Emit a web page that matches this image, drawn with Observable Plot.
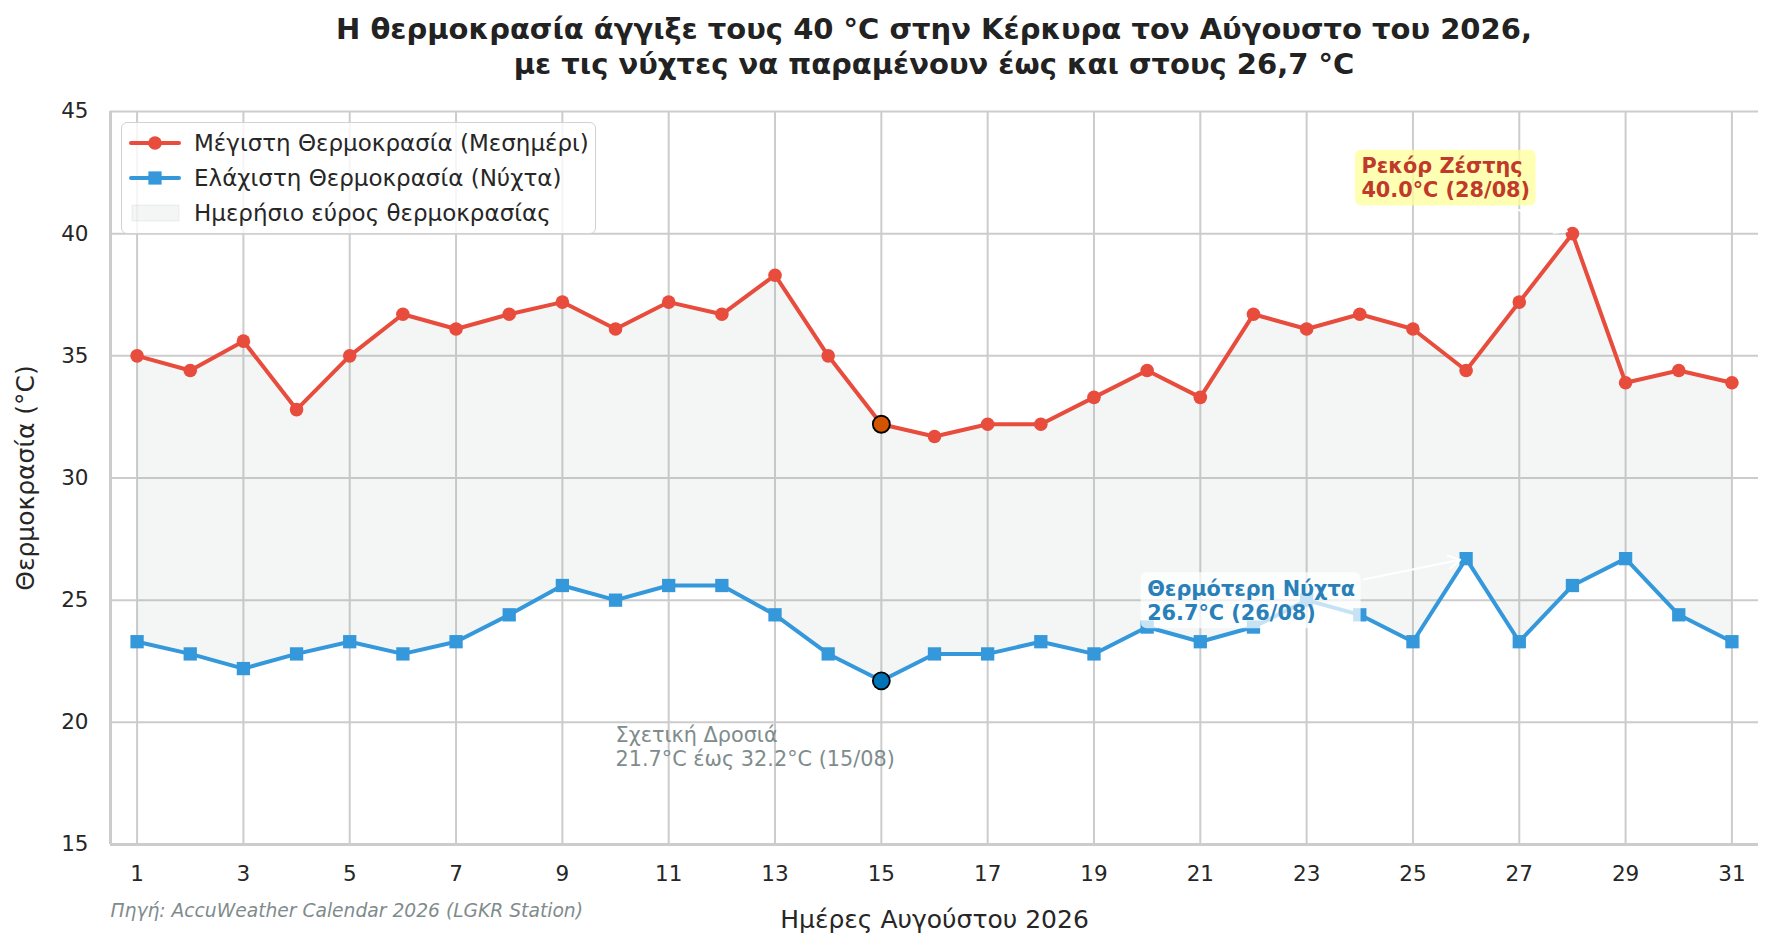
<!DOCTYPE html>
<html>
<head>
<meta charset="utf-8">
<script src="https://cdn.jsdelivr.net/npm/d3@7"></script>
<script src="https://cdn.jsdelivr.net/npm/@observablehq/plot@0.6"></script>
<style>
  html, body { margin: 0; padding: 0; background: #ffffff; }
  #wrap { position: relative; width: 1773px; height: 948px; font-family: "DejaVu Sans", sans-serif; color: #262626; overflow: hidden; }
  #title { position: absolute; left: 110px; width: 1648px; top: 12px; text-align: center; font-weight: bold; font-size: 29px; line-height: 35px; color: #222222; }
  #chart { position: absolute; left: 0; top: 95px; }
  #legend { position: absolute; left: 121px; top: 122px; width: 475px; height: 112px; box-sizing: border-box; background: rgba(255,255,255,0.8); border: 1.5px solid #d2d2d2; border-radius: 6px; }
</style>
</head>
<body>
<div id="wrap">
  <div id="title"></div>
  <div id="chart"></div>
  <div id="legend"></div>
</div>
<script>
// ---- Data ----
const days = [1,2,3,4,5,6,7,8,9,10,11,12,13,14,15,16,17,18,19,20,21,22,23,24,25,26,27,28,29,30,31];
const maxTemps = [35.0,34.4,35.6,32.8,35.0,36.7,36.1,36.7,37.2,36.1,37.2,36.7,38.3,35.0,32.2,31.7,32.2,32.2,33.3,34.4,33.3,36.7,36.1,36.7,36.1,34.4,37.2,40.0,33.9,34.4,33.9];
const minTemps = [23.3,22.8,22.2,22.8,23.3,22.8,23.3,24.4,25.6,25.0,25.6,25.6,24.4,22.8,21.7,22.8,22.8,23.3,22.8,23.9,23.3,23.9,25.0,24.4,23.3,26.7,23.3,25.6,26.7,24.4,23.3];
const xTicks = [1,3,5,7,9,11,13,15,17,19,21,23,25,27,29,31];
const yTicks = [15,20,25,30,35,40,45];
const titleLines = ["Η θερμοκρασία άγγιξε τους 40 °C στην Κέρκυρα τον Αύγουστο του 2026,", "με τις νύχτες να παραμένουν έως και στους 26,7 °C"];
const xLabel = "Ημέρες Αυγούστου 2026";
const yLabel = "Θερμοκρασία (°C)";
const sourceText = "Πηγή: AccuWeather Calendar 2026 (LGKR Station)";
const legendLabels = ["Μέγιστη Θερμοκρασία (Μεσημέρι)", "Ελάχιστη Θερμοκρασία (Νύχτα)", "Ημερήσιο εύρος θερμοκρασίας"];
const highlightDay = [15];
const notes = [
  {id: "note-record", x: 24.03, y: 42.3, text: "Ρεκόρ Ζέστης\n40.0°C (28/08)", color: "#c0392b", weight: "bold", box: "#ffff99", boxOpacity: 0.75},
  {id: "note-hot", x: 20, y: 25, text: "Θερμότερη Νύχτα\n26.7°C (26/08)", color: "#2980b9", weight: "bold", box: "#ffffff", boxOpacity: 0.72},
  {id: "note-cool", x: 10, y: 19, text: "Σχετική Δροσιά\n21.7°C έως 32.2°C (15/08)", color: "#7f8c8d", weight: "normal", box: null}
];
const arrows = [
  {x1: 26.85, y1: 41.1, x2: 28, y2: 40},
  {x1: 24.07, y1: 25.85, x2: 26, y2: 26.7}
];

const colors = {max: "#e74c3c", min: "#3498db", range: "#95a5a6", hiMax: "#d35400", hiMin: "#0072b8", grid: "#cccccc"};

const data = days.map((d, i) => ({day: d, max: maxTemps[i], min: minTemps[i]}));
const hiData = data.filter(d => highlightDay.includes(d.day));

document.getElementById("title").innerHTML = titleLines.join("<br>");

const noteMarks = notes.map(n => Plot.text([n], {
  x: "x", y: "y", text: "text", textAnchor: "start", lineAnchor: "middle",
  fill: n.color, fontWeight: n.weight, fontSize: 20.8, lineHeight: 1.15, ariaDescription: n.id
}));

const chart = Plot.plot({
  width: 1773,
  height: 853,
  marginTop: 16,
  marginBottom: 104,
  marginLeft: 110,
  marginRight: 15,
  style: {fontFamily: "DejaVu Sans, sans-serif", fontSize: "21px", color: "#262626", background: "transparent", overflow: "visible"},
  x: {domain: [0.5, 31.5], label: null},
  y: {domain: [15, 45], label: null},
  marks: [
    Plot.gridX(xTicks, {stroke: colors.grid, strokeOpacity: 1, strokeWidth: 2}),
    Plot.gridY(yTicks, {stroke: colors.grid, strokeOpacity: 1, strokeWidth: 2}),
    Plot.areaY(data, {x: "day", y1: "min", y2: "max", fill: colors.range, fillOpacity: 0.1}),
    Plot.ruleX([0.5], {stroke: colors.grid, strokeWidth: 3}),
    Plot.ruleY([15], {stroke: colors.grid, strokeWidth: 3}),
    Plot.axisX(xTicks, {tickSize: 0, tickPadding: 21, label: null, fontSize: 21.5, fill: "#262626"}),
    Plot.axisY(yTicks, {tickSize: 0, tickPadding: 22, label: null, fontSize: 21.5, fill: "#262626"}),
    Plot.line(data, {x: "day", y: "max", stroke: colors.max, strokeWidth: 4}),
    Plot.dot(data, {x: "day", y: "max", r: 6.8, fill: colors.max, stroke: null}),
    Plot.line(data, {x: "day", y: "min", stroke: colors.min, strokeWidth: 4}),
    Plot.dot(data, {x: "day", y: "min", symbol: "square", r: 7.5, fill: colors.min, stroke: null}),
    Plot.dot(hiData, {x: "day", y: "max", r: 8.5, fill: colors.hiMax, stroke: "#000000", strokeWidth: 1.8}),
    Plot.dot(hiData, {x: "day", y: "min", r: 8.5, fill: colors.hiMin, stroke: "#000000", strokeWidth: 1.8}),
    Plot.arrow(arrows, {x1: "x1", y1: "y1", x2: "x2", y2: "y2", stroke: "#ffffff", strokeWidth: 2, headLength: 10, insetEnd: 6}),
    ...noteMarks,
    Plot.text([yLabel], {frameAnchor: "left", textAnchor: "middle", lineAnchor: "middle", dx: -85, rotate: -90, fontSize: 25, fill: "#262626"}),
    Plot.text([xLabel], {frameAnchor: "bottom", textAnchor: "middle", dy: 83, fontSize: 25, fill: "#262626"}),
    Plot.text([sourceText], {frameAnchor: "bottom-left", textAnchor: "start", dy: 72, fontSize: 18.7, fontStyle: "italic", fill: "#7f8c8d"})
  ]
});
document.getElementById("chart").appendChild(chart);

// annotation boxes drawn behind their texts
notes.filter(n => n.box).forEach(n => {
  const g = chart.querySelector(`[aria-description="${n.id}"]`);
  if (!g) return;
  const bb = g.getBBox();
  const pad = 6;
  const rect = document.createElementNS("http://www.w3.org/2000/svg", "rect");
  rect.setAttribute("x", bb.x - pad);
  rect.setAttribute("y", bb.y - pad + 2);
  rect.setAttribute("width", bb.width + 2 * pad);
  rect.setAttribute("height", bb.height + 2 * pad - 4);
  rect.setAttribute("rx", 6);
  rect.setAttribute("fill", n.box);
  rect.setAttribute("fill-opacity", n.boxOpacity);
  g.parentNode.insertBefore(rect, g);
});

// legend
const lg = d3.select("#legend");
const rowsY = [20, 55, 90];
const svg = lg.append("svg").attr("width", 472).attr("height", 109).style("position", "absolute").style("left", 0).style("top", 0);
svg.append("line").attr("x1", 9).attr("x2", 57).attr("y1", rowsY[0]).attr("y2", rowsY[0]).attr("stroke", colors.max).attr("stroke-width", 4).attr("stroke-linecap", "round");
svg.append("circle").attr("cx", 33).attr("cy", rowsY[0]).attr("r", 6.8).attr("fill", colors.max);
svg.append("line").attr("x1", 9).attr("x2", 57).attr("y1", rowsY[1]).attr("y2", rowsY[1]).attr("stroke", colors.min).attr("stroke-width", 4).attr("stroke-linecap", "round");
svg.append("rect").attr("x", 33 - 6.6).attr("y", rowsY[1] - 6.6).attr("width", 13.2).attr("height", 13.2).attr("fill", colors.min);
svg.append("rect").attr("x", 10).attr("y", rowsY[2] - 8).attr("width", 47).attr("height", 16).attr("fill", colors.range).attr("fill-opacity", 0.1).attr("stroke", colors.range).attr("stroke-opacity", 0.15);
legendLabels.forEach((t, i) => {
  svg.append("text").attr("x", 72).attr("y", rowsY[i]).attr("dy", "0.36em").attr("font-size", 23).attr("fill", "#262626").attr("font-family", "DejaVu Sans, sans-serif").text(t);
});
</script>
</body>
</html>
